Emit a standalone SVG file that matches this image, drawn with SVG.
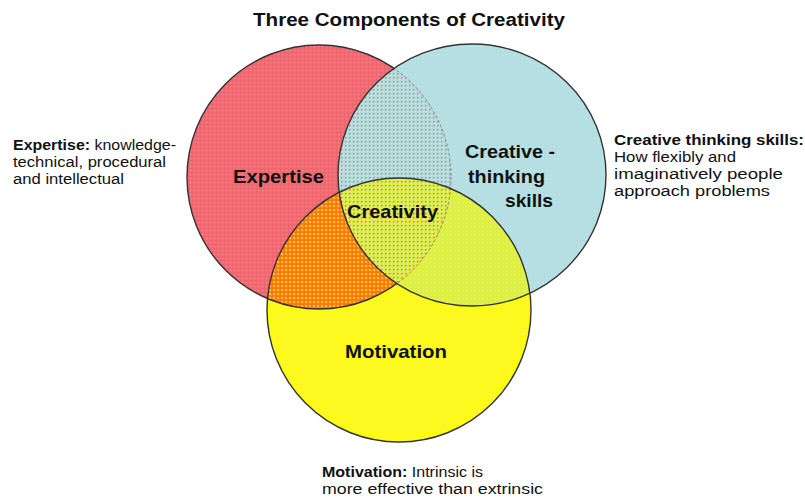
<svg xmlns="http://www.w3.org/2000/svg" width="805" height="498" viewBox="0 0 805 498">
<style>
.t{font-family:"Liberation Sans",Arial,sans-serif;fill:#111}
.b{font-weight:bold}
.title{font-size:18px;font-weight:bold}
.ann{font-size:15.5px}
.lbl{font-size:19px;font-weight:bold}
.edge{fill:none;stroke:#333;stroke-width:1.4}
.faint{fill:none;stroke:#555;stroke-width:1;stroke-dasharray:3 2;opacity:0.6}
</style>
<defs>
<clipPath id="cR"><circle cx="319" cy="177" r="132"/></clipPath>
<clipPath id="cB"><ellipse cx="472" cy="175" rx="134" ry="131"/></clipPath>
<clipPath id="cY"><circle cx="399" cy="310" r="132"/></clipPath>
<mask id="notB"><rect width="805" height="498" fill="#fff"/><ellipse cx="472" cy="175" rx="134" ry="131" fill="#000"/></mask>
<pattern id="redDots" width="4" height="4" patternUnits="userSpaceOnUse"><rect x="1" y="1" width="1.6" height="1.6" fill="#EE6F7C"/></pattern>
<pattern id="yelDots" width="4" height="4" patternUnits="userSpaceOnUse"><rect x="1" y="1" width="1.6" height="1.6" fill="#FFE040"/></pattern>
<pattern id="whiteDots" width="4" height="4" patternUnits="userSpaceOnUse"><rect x="2" y="2" width="1.2" height="1.2" fill="#fff"/></pattern>
</defs>
<rect width="805" height="498" fill="#fff"/>

<g id="expertise">
<circle cx="319" cy="177" r="132" fill="#F2666E"/>
</g>
<g id="creative-thinking-skills">
<ellipse cx="472" cy="175" rx="134" ry="131" fill="#B4DFE2"/>
</g>
<g id="motivation">
<circle cx="399" cy="310" r="132" fill="#FCFC06"/>
</g>

<g id="overlaps">
<g clip-path="url(#cR)"><circle cx="399" cy="310" r="132" fill="#FF7A00"/><circle cx="399" cy="310" r="132" fill="url(#yelDots)" mask="url(#notB)"/></g>
<g clip-path="url(#cB)"><circle cx="399" cy="310" r="132" fill="#DEF03E"/></g>
<g clip-path="url(#cR)"><ellipse cx="472" cy="175" rx="134" ry="131" fill="url(#redDots)"/></g>
<g opacity="0.35">
<circle cx="319" cy="177" r="132" fill="url(#whiteDots)" mask="url(#notB)"/>
<ellipse cx="472" cy="175" rx="134" ry="131" fill="url(#whiteDots)"/>
<circle cx="399" cy="310" r="132" fill="url(#whiteDots)"/>
</g>
</g>

<g id="outlines">
<circle class="edge" cx="319" cy="177" r="132" mask="url(#notB)"/>
<g clip-path="url(#cB)"><circle class="faint" cx="319" cy="177" r="132"/></g>
<ellipse class="edge" cx="472" cy="175" rx="134" ry="131"/>
<circle class="edge" cx="399" cy="310" r="132"/>
</g>

<g id="labels">
<text class="t lbl" x="233" y="183" textLength="91" lengthAdjust="spacingAndGlyphs">Expertise</text>
<text class="t lbl" x="465" y="158" textLength="90" lengthAdjust="spacingAndGlyphs">Creative -</text>
<text class="t lbl" x="468" y="183" textLength="77" lengthAdjust="spacingAndGlyphs">thinking</text>
<text class="t lbl" x="505" y="207" textLength="48" lengthAdjust="spacingAndGlyphs">skills</text>
<text class="t lbl" x="347" y="218" textLength="91" lengthAdjust="spacingAndGlyphs">Creativity</text>
<text class="t lbl" x="345" y="358" textLength="102" lengthAdjust="spacingAndGlyphs">Motivation</text>
</g>

<g id="title">
<text class="t title" x="253" y="26" textLength="312" lengthAdjust="spacingAndGlyphs">Three Components of Creativity</text>
</g>

<g id="expertise-note">
<text class="t ann" x="13" y="150" textLength="163" lengthAdjust="spacingAndGlyphs"><tspan class="b">Expertise:</tspan> knowledge-</text>
<text class="t ann" x="13" y="167" textLength="153" lengthAdjust="spacingAndGlyphs">technical, procedural</text>
<text class="t ann" x="13" y="184" textLength="111" lengthAdjust="spacingAndGlyphs">and intellectual</text>
</g>

<g id="creative-note">
<text class="t ann b" x="614" y="145" textLength="190" lengthAdjust="spacingAndGlyphs">Creative thinking skills:</text>
<text class="t ann" x="614" y="162" textLength="122" lengthAdjust="spacingAndGlyphs">How flexibly and</text>
<text class="t ann" x="614" y="179" textLength="169" lengthAdjust="spacingAndGlyphs">imaginatively people</text>
<text class="t ann" x="614" y="196" textLength="156" lengthAdjust="spacingAndGlyphs">approach problems</text>
</g>

<g id="motivation-note">
<text class="t ann" x="322" y="477" textLength="161" lengthAdjust="spacingAndGlyphs"><tspan class="b">Motivation:</tspan> Intrinsic is</text>
<text class="t ann" x="322" y="494" textLength="221" lengthAdjust="spacingAndGlyphs">more effective than extrinsic</text>
</g>
</svg>
